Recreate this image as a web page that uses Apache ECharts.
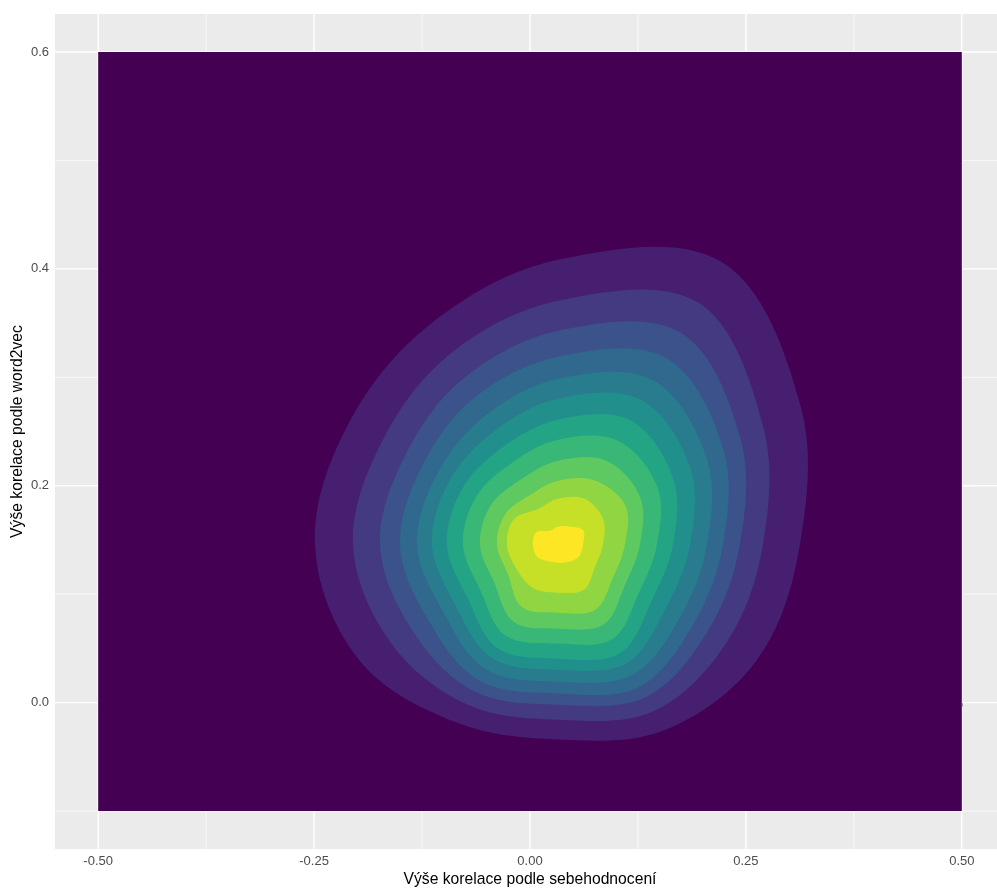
<!DOCTYPE html>
<html><head><meta charset="utf-8">
<script src="https://cdn.jsdelivr.net/npm/echarts@6/dist/echarts.min.js"></script>
<style>html,body{margin:0;padding:0;background:#fff}#c{width:997px;height:889px}</style>
</head><body><div id="c"></div>
<script>
const xTicks = [-0.5, -0.25, 0, 0.25, 0.5];
const xMinor = [-0.375, -0.125, 0.125, 0.375];
const yTicks = [0, 0.2, 0.4, 0.6];
const yMinor = [-0.1, 0.1, 0.3, 0.5];
const xTitle = 'Výše korelace podle sebehodnocení';
const yTitle = 'Výše korelace podle word2vec';

// density grid extent (lowest level fills it)
const densityExtent = [[-0.5,-0.1],[0.5,-0.1],[0.5,0.6],[-0.5,0.6]];
// filled-contour boundaries, outermost to innermost
const contour1 = [[0.3125,0.1456],[0.3130,0.2746],[0.2216,0.4066],[0.0324,0.4083],[-0.1152,0.3491],[-0.2102,0.2571],[-0.2489,0.1456],[-0.1981,0.0396],[-0.0862,-0.0180],[0.0324,-0.0341],[0.1562,-0.0252],[0.2629,0.0396]];
const contour2 = [[0.2697,0.1456],[0.2699,0.2548],[0.1944,0.3691],[0.0324,0.3705],[-0.0943,0.3204],[-0.1721,0.2396],[-0.2049,0.1456],[-0.1620,0.0562],[-0.0741,-0.0013],[0.0324,-0.0157],[0.1435,-0.0077],[0.2278,0.0557]];
const contour3 = [[0.2430,0.1456],[0.2439,0.2428],[0.1742,0.3412],[0.0324,0.3428],[-0.0781,0.2981],[-0.1450,0.2272],[-0.1736,0.1456],[-0.1370,0.0677],[-0.0654,0.0107],[0.0324,-0.0019],[0.1343,0.0051],[0.2058,0.0659]];
const contour4 = [[0.2234,0.1456],[0.2238,0.2336],[0.1574,0.3180],[0.0324,0.3189],[-0.0654,0.2805],[-0.1250,0.2179],[-0.1505,0.1456],[-0.1179,0.0765],[-0.0585,0.0203],[0.0324,0.0083],[0.1273,0.0147],[0.1898,0.0733]];
const contour5 = [[0.2049,0.1456],[0.2048,0.2249],[0.1424,0.2973],[0.0324,0.2986],[-0.0532,0.2637],[-0.1079,0.2101],[-0.1308,0.1456],[-0.1009,0.0843],[-0.0509,0.0307],[0.0324,0.0193],[0.1192,0.0259],[0.1747,0.0802]];
const contour6 = [[0.1852,0.1456],[0.1858,0.2161],[0.1290,0.2789],[0.0324,0.2802],[-0.0428,0.2494],[-0.0939,0.2037],[-0.1134,0.1456],[-0.0869,0.0908],[-0.0434,0.0410],[0.0324,0.0304],[0.1117,0.0362],[0.1577,0.0880]];
const contour7 = [[0.1655,0.1456],[0.1657,0.2069],[0.1157,0.2605],[0.0324,0.2608],[-0.0324,0.2350],[-0.0789,0.1967],[-0.0961,0.1456],[-0.0728,0.0972],[-0.0370,0.0498],[0.0324,0.0405],[0.1047,0.0458],[0.1417,0.0954]];
const contour8 = [[0.1470,0.1456],[0.1477,0.1986],[0.1018,0.2414],[0.0324,0.2424],[-0.0220,0.2206],[-0.0628,0.1894],[-0.0776,0.1456],[-0.0578,0.1041],[-0.0284,0.0618],[0.0324,0.0544],[0.0955,0.0586],[0.1266,0.1023]];
const contour9 = [[0.1273,0.1456],[0.1276,0.1894],[0.0885,0.2230],[0.0324,0.2230],[-0.0110,0.2055],[-0.0458,0.1815],[-0.0579,0.1456],[-0.0418,0.1115],[-0.0191,0.0746],[0.0324,0.0682],[0.0856,0.0722],[0.1106,0.1097]];
const contour10 = [[0.1099,0.1456],[0.1106,0.1815],[0.0752,0.2047],[0.0324,0.2046],[-0.0006,0.1911],[-0.0287,0.1737],[-0.0382,0.1456],[-0.0257,0.1189],[-0.0093,0.0881],[0.0324,0.0829],[0.0758,0.0857],[0.0965,0.1161]];
const contour11 = [[0.0845,0.1456],[0.0845,0.1696],[0.0631,0.1879],[0.0324,0.1880],[0.0087,0.1783],[-0.0187,0.1691],[-0.0266,0.1456],[-0.0157,0.1235],[0.0035,0.1057],[0.0324,0.1014],[0.0625,0.1041],[0.0755,0.1258]];
const contour12 = [[0.0613,0.1456],[0.0615,0.1590],[0.0446,0.1624],[0.0324,0.1622],[0.0231,0.1584],[0.0073,0.1571],[0.0035,0.1456],[0.0083,0.1345],[0.0214,0.1304],[0.0324,0.1290],[0.0440,0.1296],[0.0565,0.1345]];

const levels = [densityExtent, contour1, contour2, contour3, contour4, contour5, contour6,
  contour7, contour8, contour9, contour10, contour11, contour12];
const levelColors = ['#440154','#471F70','#433A81','#3B528A','#31688D','#287C8E','#21908C',
  '#22A485','#38B777','#5EC861','#90D643','#C6E027','#FDE725'];

const FONT = '"Liberation Sans", Arial, sans-serif';
const chart = echarts.init(document.getElementById('c'), null, {renderer: 'canvas'});

const gridLines = []
  .concat(xTicks.map(v => [v, 0, 1]))
  .concat(xMinor.map(v => [v, 0, 0]))
  .concat(yTicks.map(v => [0, v, 3]))
  .concat(yMinor.map(v => [0, v, 2]));

chart.setOption({
  backgroundColor: '#ffffff',
  animation: false,
  grid: {left: 55, top: 14, width: 950, height: 835, show: true,
         backgroundColor: '#EBEBEB', borderWidth: 0,
         containLabel: false, outerBoundsMode: 'none'},
  xAxis: {
    type: 'value', min: -0.55, max: 0.55,
    name: xTitle, nameLocation: 'middle', nameGap: 23, nameMoveOverlap: false,
    nameTextStyle: {fontFamily: FONT, fontSize: 15.7, color: '#000'},
    axisLine: {show: false},
    axisTick: {show: true, customValues: xTicks, length: 4, lineStyle: {color: '#333', width: 1}},
    axisLabel: {customValues: xTicks, formatter: v => v.toFixed(2), margin: 6,
      fontFamily: FONT, fontSize: 13, color: '#4D4D4D'},
    splitLine: {show: false}
  },
  yAxis: {
    type: 'value', min: -0.135, max: 0.635,
    name: yTitle, nameLocation: 'middle', nameGap: 29, nameRotate: 90, nameMoveOverlap: false,
    nameTextStyle: {fontFamily: FONT, fontSize: 15.7, color: '#000'},
    axisLine: {show: false},
    axisTick: {show: true, customValues: yTicks, length: 4, lineStyle: {color: '#333', width: 1}},
    axisLabel: {customValues: yTicks, formatter: v => v.toFixed(1), margin: 6,
      fontFamily: FONT, fontSize: 13, color: '#4D4D4D'},
    splitLine: {show: false}
  },
  series: [
    {
      type: 'custom', coordinateSystem: 'cartesian2d', silent: true, z: 1,
      data: gridLines,
      renderItem(params, api) {
        const cs = params.coordSys;
        const kind = api.value(2);
        const w = (kind === 1 || kind === 3) ? 1.4 : 0.7;
        if (kind <= 1) {
          const x = api.coord([api.value(0), 0])[0];
          return {type: 'line', shape: {x1: x, y1: cs.y, x2: x, y2: cs.y + cs.height},
                  style: {stroke: '#FFFFFF', lineWidth: w}};
        }
        const y = api.coord([0, api.value(1)])[1];
        return {type: 'line', shape: {x1: cs.x, y1: y, x2: cs.x + cs.width, y2: y},
                style: {stroke: '#FFFFFF', lineWidth: w}};
      }
    },
    {
      type: 'custom', coordinateSystem: 'cartesian2d', silent: true, z: 2, clip: false,
      data: levels.map((p, i) => [0, 0, i]),
      renderItem(params, api) {
        const idx = api.value(2);
        const pts = levels[idx].map(p => api.coord(p));
        return {type: 'polygon',
                shape: {points: pts, smooth: idx === 0 ? 0 : 0.35},
                style: {fill: levelColors[idx]}};
      }
    }
  ]
});
</script></body></html>
